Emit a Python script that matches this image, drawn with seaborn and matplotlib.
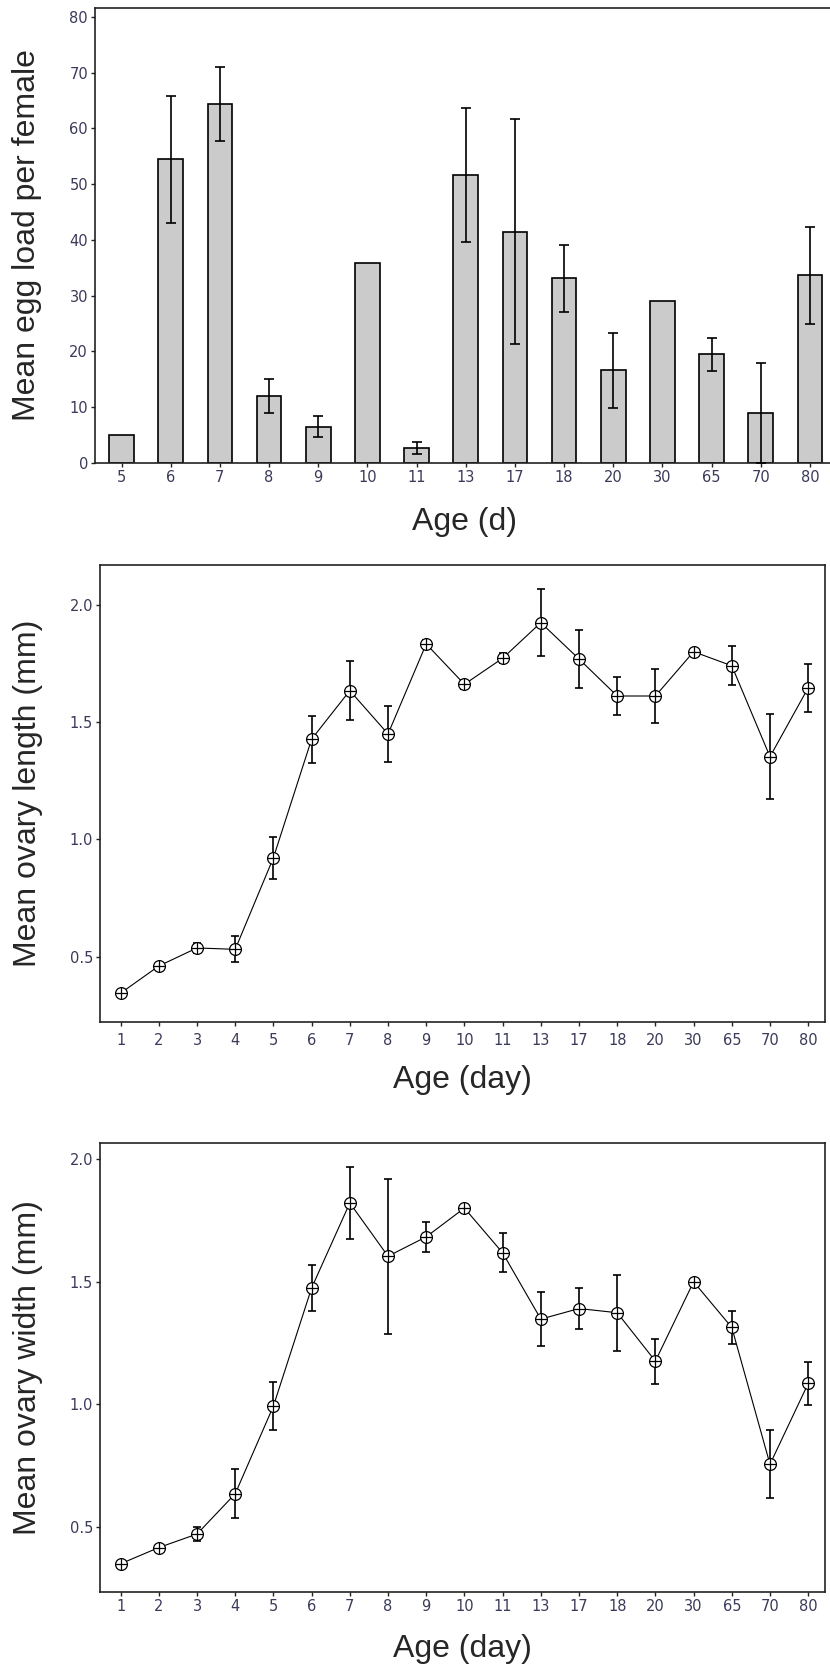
import numpy as np
import matplotlib
matplotlib.use("Agg")
import matplotlib.pyplot as plt
import seaborn as sns

# ---- data ----
# panel 1: egg load (bars) ; None = no error bar drawn
egg_age = ["5", "6", "7", "8", "9", "10", "11", "13", "17", "18", "20", "30", "65", "70", "80"]
egg_mean = [5.0, 54.5, 64.4, 12.0, 6.5, 35.9, 2.7, 51.6, 41.5, 33.1, 16.6, 29.0, 19.5, 9.0, 33.7]
egg_se = [None, 11.4, 6.7, 3.1, 1.85, None, 1.1, 12.0, 20.2, 6.0, 6.8, None, 3.0, 9.0, 8.7]

# panels 2 and 3: ovary length / width
ovary_age = ["1", "2", "3", "4", "5", "6", "7", "8", "9", "10", "11", "13", "17", "18", "20", "30", "65", "70", "80"]
len_mean = [0.344, 0.460, 0.537, 0.531, 0.922, 1.428, 1.635, 1.450, 1.834, 1.662, 1.773, 1.925,
            1.770, 1.612, 1.612, 1.801, 1.741, 1.353, 1.647]
len_se = [0.015, 0.012, 0.02, 0.055, 0.09, 0.10, 0.125, 0.12, 0.018, 0.018, 0.022, 0.142,
          0.124, 0.083, 0.114, 0.01, 0.083, 0.182, 0.103]
wid_mean = [0.351, 0.417, 0.472, 0.636, 0.993, 1.474, 1.820, 1.603, 1.682, 1.799, 1.617, 1.347,
            1.390, 1.373, 1.176, 1.499, 1.313, 0.756, 1.085]
wid_se = [0.012, 0.012, 0.027, 0.10, 0.098, 0.092, 0.147, 0.315, 0.06, 0.01, 0.08, 0.11,
          0.085, 0.155, 0.092, 0.01, 0.067, 0.138, 0.086]

sns.set_style("ticks")
plt.rcParams["font.family"] = ["DejaVu Sans"]

TICK_COLOR = "#3a3a5a"
LABEL_FONT = "Liberation Sans"

fig = plt.figure(figsize=(8.3, 16.67), dpi=100)
W, H = 830.0, 1667.0


def axes_px(left, top, right, bottom):
    # helper: place axes by pixel box measured on the reference
    return fig.add_axes([left / W, 1 - bottom / H, (right - left) / W, (bottom - top) / H])


def style_axes(ax, pad):
    for sp in ax.spines.values():
        sp.set_visible(True)
        sp.set_color("#222222")
        sp.set_linewidth(1.2)
    ax.tick_params(axis="both", direction="out", length=3, width=1, color="#222222",
                   labelsize=10.5, labelcolor=TICK_COLOR)
    ax.tick_params(axis="x", pad=pad)
    ax.tick_params(axis="y", pad=2)


# ---------- panel 1: bars ----------
ax1 = axes_px(95, 8, 834, 463)
sns.barplot(x=egg_age, y=egg_mean, color="#cbcbcb", edgecolor="black", linewidth=1.2,
            width=0.5, errorbar=None, ax=ax1)
idx = [i for i, s in enumerate(egg_se) if s is not None]
ax1.errorbar([i for i in idx], [egg_mean[i] for i in idx], yerr=[egg_se[i] for i in idx],
             fmt="none", ecolor="black", elinewidth=1.2, capsize=3.5, capthick=1.2, zorder=3)
ax1.set_xlim(-0.54, len(egg_age) - 1 + 0.49)
ax1.set_ylim(0, 81.6)
ax1.set_yticks(np.arange(0, 81, 10))
style_axes(ax1, pad=2)
ax1.set_xlabel("Age (d)", fontsize=23, family=LABEL_FONT, va="center")
ax1.set_ylabel("Mean egg load per female", fontsize=23, family=LABEL_FONT, va="center")
ax1.xaxis.set_label_coords(0.5, -0.13)
ax1.yaxis.set_label_coords((27 - 95) / 739.0, 0.5)


# ---------- panels 2 and 3: lines with error bars ----------
def line_panel(ax, mean, se, ylim, ylabel, pad):
    pos = np.arange(len(ovary_age))
    ax.errorbar(pos, mean, yerr=se, fmt="none", ecolor="black", elinewidth=1.2,
                capsize=2.8, capthick=1.2, zorder=2)
    sns.lineplot(x=pos, y=mean, color="black", linewidth=0.8, marker="o", markersize=8.5,
                 markerfacecolor="white", markeredgecolor="black", markeredgewidth=0.9,
                 zorder=3, ax=ax)
    sns.scatterplot(x=pos, y=mean, marker="+", s=66, color="black", linewidth=0.9,
                    zorder=4, ax=ax)
    ax.set_xticks(pos)
    ax.set_xticklabels(ovary_age)
    ax.set_xlim(-0.54, len(ovary_age) - 1 + 0.44)
    ax.set_ylim(*ylim)
    ax.set_yticks([0.5, 1.0, 1.5, 2.0])
    ax.set_yticklabels(["0.5", "1.0", "1.5", "2.0"])
    style_axes(ax, pad=pad)
    ax.set_xlabel("Age (day)", fontsize=23, family=LABEL_FONT, va="center")
    ax.set_ylabel(ylabel, fontsize=23, family=LABEL_FONT, va="center")
    ax.xaxis.set_label_coords(0.5, -0.128)
    ax.yaxis.set_label_coords((28 - 100) / 725.0, 0.5)


ax2 = axes_px(100, 565, 825, 1022)
line_panel(ax2, len_mean, len_se, (0.221, 2.171), "Mean ovary length (mm)", pad=5)

ax3 = axes_px(100, 1143, 825, 1592)
line_panel(ax3, wid_mean, wid_se, (0.236, 2.064), "Mean ovary width (mm)", pad=2)

fig.savefig("out.png", dpi=100)
